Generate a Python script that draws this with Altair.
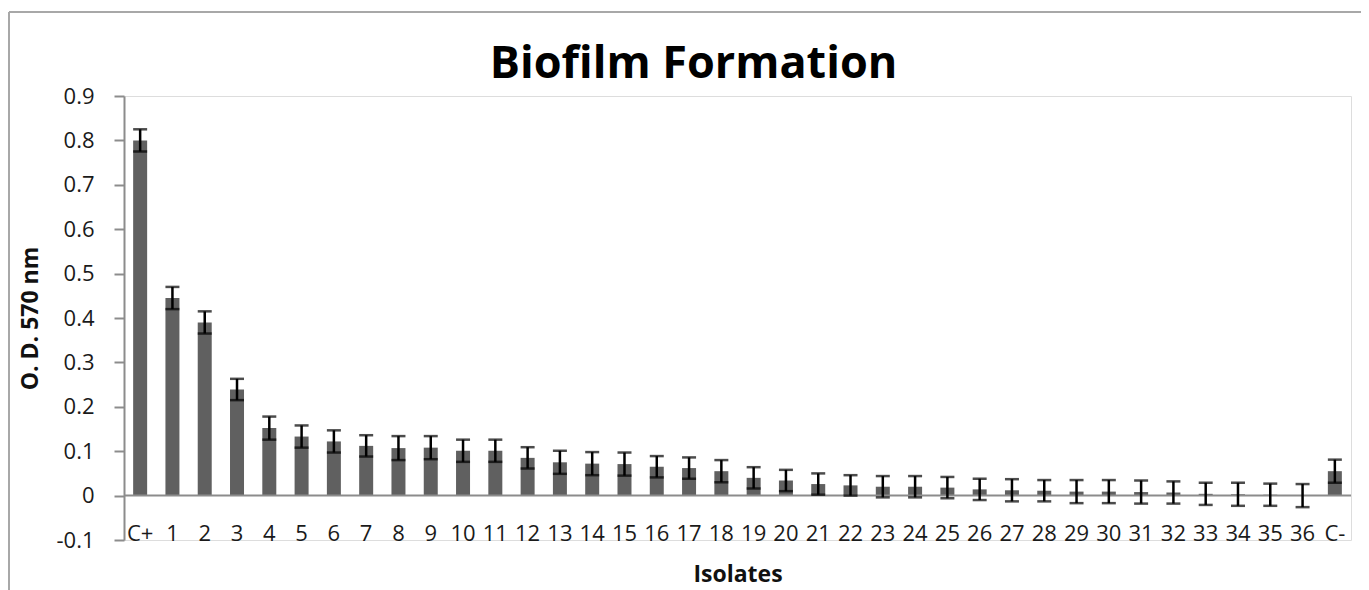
import altair as alt
import pandas as pd

categories = ["C+"] + [str(i) for i in range(1, 37)] + ["C-"]
means = [0.80, 0.445, 0.39, 0.239, 0.152, 0.133, 0.122, 0.112, 0.107, 0.108,
         0.101, 0.101, 0.085, 0.075, 0.072, 0.071, 0.065, 0.062, 0.055, 0.040,
         0.034, 0.026, 0.023, 0.020, 0.020, 0.018, 0.014, 0.012, 0.011, 0.009,
         0.009, 0.008, 0.007, 0.004, 0.003, 0.002, 0.000, 0.055]
errors = [0.025, 0.025, 0.025, 0.024, 0.026, 0.025, 0.025, 0.024, 0.027, 0.026,
          0.025, 0.025, 0.024, 0.026, 0.026, 0.026, 0.024, 0.024, 0.025, 0.024,
          0.024, 0.024, 0.023, 0.024, 0.024, 0.024, 0.024, 0.025, 0.024, 0.026,
          0.026, 0.026, 0.025, 0.025, 0.026, 0.025, 0.026, 0.026]
y_ticks = [-0.1, 0.0, 0.1, 0.2, 0.3, 0.4, 0.5, 0.6, 0.7, 0.8, 0.9]

df = pd.DataFrame({"cat": categories, "mean": means, "err": errors})
df["lo"] = df["mean"] - df["err"]
df["hi"] = df["mean"] + df["err"]

FONT = "Open Sans"
W, H = 1227, 444

xenc = alt.X("cat:N", sort=categories,
             scale=alt.Scale(paddingInner=0, paddingOuter=0),
             axis=alt.Axis(title="Isolates", labelAngle=0, domain=False, ticks=False,
                           tickSize=0, labelPadding=-7, labelBaseline="middle",
                           labelFont=FONT, labelFontSize=22, labelColor="#1a1a1a",
                           labelOverlap=False,
                           titleFont=FONT, titleFontSize=23, titleFontWeight="bold",
                           titleColor="#111", titleX=W / 2, titleY=34,
                           titleBaseline="middle", titleAlign="center"))
yscale = alt.Scale(domain=[-0.1, 0.9], nice=False, zero=False)
yaxis = alt.Axis(title="O. D. 570 nm", values=y_ticks, grid=False,
                 domainColor="#8c8c8c", domainWidth=2, tickColor="#8c8c8c",
                 tickWidth=2, tickSize=10, labelPadding=20,
                 labelExpr="datum.value < 0 ? '-' + format(-datum.value, '~g') : format(datum.value, '~g')",
                 labelFont=FONT, labelFontSize=22, labelColor="#1a1a1a",
                 titleFont=FONT, titleFontSize=23, titleFontWeight="bold",
                 titleColor="#111", titleX=-94, titleY=H / 2, titleAngle=-90,
                 titleAlign="center", titleBaseline="middle")

base = alt.Chart(df)

bars = base.mark_bar(size=14, color="#606060").encode(
    x=xenc, y=alt.Y("mean:Q", scale=yscale, axis=yaxis))

zero = alt.Chart(pd.DataFrame({"z": [0]})).mark_rule(color="#8c8c8c", strokeWidth=2).encode(
    y=alt.Y("z:Q", scale=yscale))

err_rule = base.mark_rule(color="#000", strokeWidth=2.5).encode(
    x=alt.X("cat:N", sort=categories), y=alt.Y("lo:Q", scale=yscale), y2="hi:Q")
cap_hi = base.mark_tick(color="#000", orient="horizontal", size=14, thickness=2.5).encode(
    x=alt.X("cat:N", sort=categories), y=alt.Y("hi:Q", scale=yscale))
cap_lo = base.mark_tick(color="#000", orient="horizontal", size=14, thickness=2.5).encode(
    x=alt.X("cat:N", sort=categories), y=alt.Y("lo:Q", scale=yscale))

frame_df = pd.DataFrame({"k": [0]})
frame_top = alt.Chart(frame_df).mark_rule(color="#a8a8a8", strokeWidth=2).encode(
    x=alt.value(-115), x2=alt.value(1300), y=alt.value(-84))
frame_left = alt.Chart(frame_df).mark_rule(color="#a8a8a8", strokeWidth=2).encode(
    x=alt.value(-115), y=alt.value(-84), y2=alt.value(500))

chart = alt.layer(frame_top, frame_left, bars, zero, err_rule, cap_hi, cap_lo).properties(
    width=W, height=H,
    title=alt.TitleParams("Biofilm Formation", font=FONT, fontSize=45, fontWeight="bold",
                          color="#000", anchor="middle", dx=-44, offset=-121,
                          baseline="bottom", frame="group"),
    autosize=alt.AutoSizeParams(type="none"),
    padding={"left": 116, "top": 88, "right": 10, "bottom": 50},
).configure_view(stroke=None).configure(background="white")

chart.save("out.html", embed_options={"renderer": "svg", "actions": False})
